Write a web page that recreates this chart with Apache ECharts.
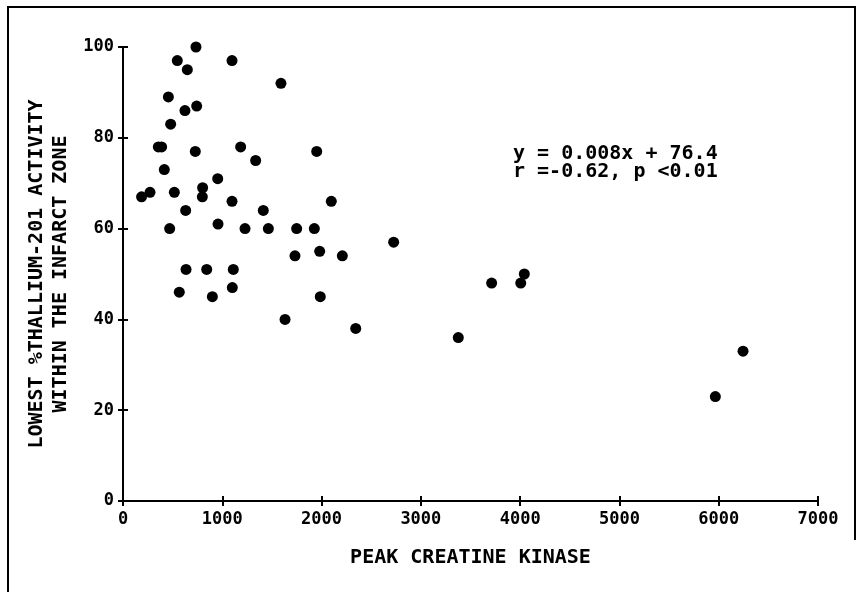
<!DOCTYPE html>
<html>
<head>
<meta charset="utf-8">
<script src="https://cdn.jsdelivr.net/npm/echarts@6/dist/echarts.min.js"></script>
<style>
  html, body { margin: 0; padding: 0; background: #fff; }
  #chart { width: 858px; height: 592px; }
</style>
</head>
<body>
<div id="chart"></div>
<script>
// peak creatine kinase (x) vs lowest % thallium-201 activity (y)
const peakCK = [
    735, 547, 648, 1098, 1591, 457, 624, 742, 480, 356,
    389, 1185, 728, 1951, 1336, 416, 954, 802, 799, 187,
    272, 517, 1098, 2098, 631, 1413, 470, 957, 1229, 1464,
    1749, 1927, 1732, 1981, 2209, 635, 843, 1111, 567, 900,
    1101, 1987, 1632, 2344, 2726, 3713, 4006, 4042, 3377, 6245,
    5966
];
const lowestTl = [
    100, 97, 95, 97, 92, 89, 86, 87, 83, 78,
    78, 78, 77, 77, 75, 73, 71, 69, 67, 67,
    68, 68, 66, 66, 64, 64, 60, 61, 60, 60,
    60, 60, 54, 55, 54, 51, 51, 51, 46, 45,
    47, 45, 40, 38, 57, 48, 48, 50, 36, 33,
    23
];
const xTicks = [0, 1000, 2000, 3000, 4000, 5000, 6000, 7000];
const yTicks = [0, 20, 40, 60, 80, 100];
const fitText = ['y = 0.008x + 76.4', 'r =-0.62, p <0.01'];

const mono = "'DejaVu Sans Mono', monospace";
const points = peakCK.map((x, i) => [x, lowestTl[i]]);
const tickStyle = { color: '#000', width: 2 };

const chart = echarts.init(document.getElementById('chart'));

// main axis: line + labels; tick axis: shifted 5px inward, draws 10px ticks
// so each tick crosses the axis line like the plotter original
function xAxisFor(tickOnly) {
    return {
        type: 'value',
        position: 'bottom',
        offset: tickOnly ? -5 : 0,
        min: xTicks[0],
        max: xTicks[xTicks.length - 1],
        interval: 1000,
        splitLine: { show: false },
        axisLine: { show: !tickOnly, onZero: false, lineStyle: { color: '#000', width: 2 } },
        axisTick: { show: tickOnly, length: 10, lineStyle: tickStyle },
        axisLabel: {
            show: !tickOnly,
            color: '#000', fontFamily: mono, fontWeight: 'bold', fontSize: 17, margin: 10,
            formatter: v => String(v)
        }
    };
}
function yAxisFor(tickOnly) {
    return {
        type: 'value',
        position: 'left',
        offset: tickOnly ? -5 : 0,
        min: yTicks[0],
        max: yTicks[yTicks.length - 1],
        interval: 20,
        splitLine: { show: false },
        axisLine: { show: !tickOnly, onZero: false, lineStyle: { color: '#000', width: 2 } },
        axisTick: { show: tickOnly, length: 10, lineStyle: tickStyle },
        axisLabel: {
            show: !tickOnly,
            color: '#000', fontFamily: mono, fontWeight: 'bold', fontSize: 17, margin: 9,
            formatter: v => String(v)
        }
    };
}

const xMain = xAxisFor(false);
xMain.name = 'PEAK CREATINE KINASE';
xMain.nameLocation = 'middle';
xMain.nameGap = 47;
xMain.nameTextStyle = { color: '#000', fontFamily: mono, fontWeight: 'bold', fontSize: 20 };

const yMain = yAxisFor(false);
yMain.name = 'LOWEST %THALLIUM-201 ACTIVITY\nWITHIN THE INFARCT ZONE';
yMain.nameLocation = 'middle';
yMain.nameGap = 50;
yMain.nameTextStyle = { color: '#000', fontFamily: mono, fontWeight: 'bold', fontSize: 20, lineHeight: 24 };

chart.setOption({
    animation: false,
    backgroundColor: '#fff',
    grid: { left: 123, right: 40, top: 47, bottom: 91 },
    xAxis: [xMain, xAxisFor(true)],
    yAxis: [yMain, yAxisFor(true)],
    series: [{
        type: 'scatter',
        xAxisIndex: 0,
        yAxisIndex: 0,
        clip: true,
        symbol: 'circle',
        symbolSize: 11,
        itemStyle: { color: '#000', opacity: 1 },
        data: points
    }, {
        type: 'scatter',
        xAxisIndex: 1,
        yAxisIndex: 1,
        data: []
    }],
    graphic: [
        {
            type: 'text',
            left: 513,
            top: 144,
            style: {
                text: fitText.join('\n'),
                fill: '#000',
                font: 'bold 20px ' + mono,
                lineHeight: 18
            }
        },
        {
            type: 'polyline',
            shape: { points: [[8, 592], [8, 7], [855, 7], [855, 540]] },
            style: { stroke: '#000', lineWidth: 2, fill: null }
        }
    ]
});
</script>
</body>
</html>
